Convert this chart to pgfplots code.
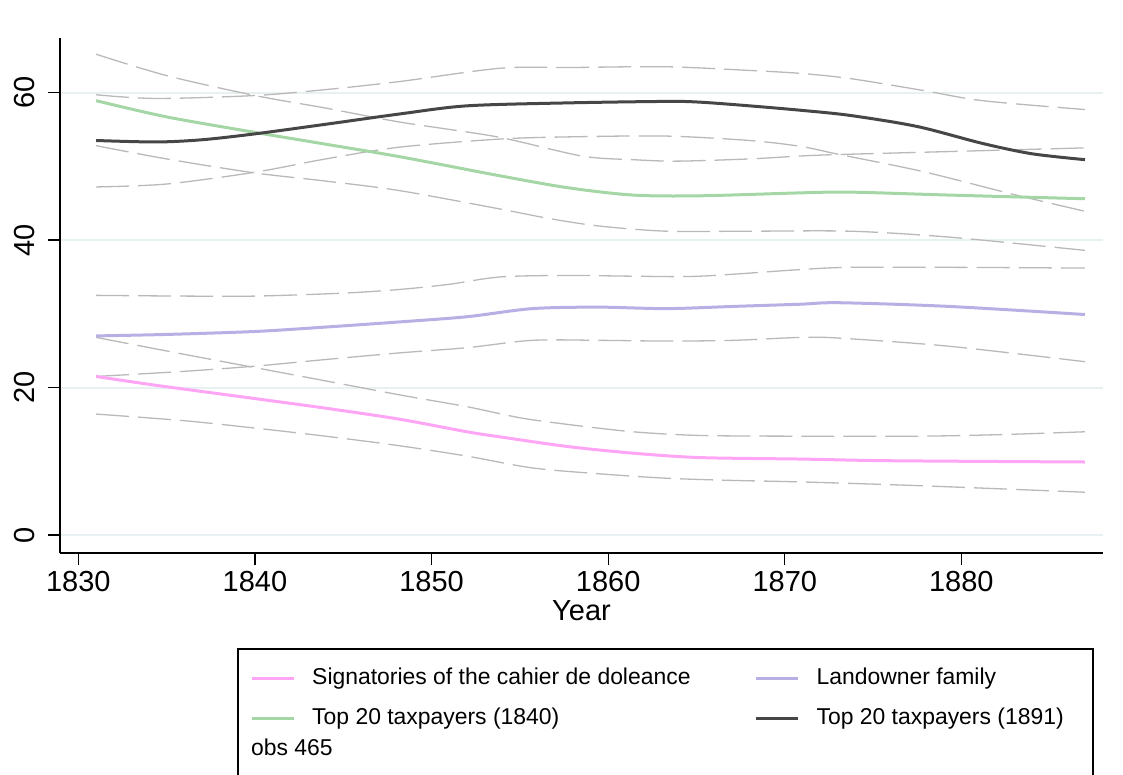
\documentclass[border=0pt]{standalone}
\usepackage{fontspec}
\setmainfont{Liberation Sans}
\usepackage{pgfplots}
\pgfplotsset{compat=1.18}
\definecolor{cpink}{RGB}{255,165,245}
\definecolor{cpurple}{RGB}{182,176,228}
\definecolor{cgreen}{RGB}{165,214,165}
\definecolor{cdark}{RGB}{70,70,70}
\definecolor{cci}{RGB}{185,185,185}
\definecolor{cgrid}{RGB}{232,241,242}
\begin{document}
\begin{tikzpicture}
\useasboundingbox (-60bp,-222bp) rectangle (1063bp,553bp);
\begin{axis}[
  at={(0,0)}, anchor=south west,
  scale only axis, width=1043bp, height=515bp,
  xmin=1828.96, xmax=1888.02, ymin=-2.44, ymax=67.4,
  axis x line*=bottom, axis y line*=left,
  axis line style={line width=1.3bp, black},
  xtick={1830,1840,1850,1860,1870,1880},
  ytick={0,20,40,60},
  tick align=outside, major tick length=12bp,
  every tick/.style={line width=1.3bp, black},
  ymajorgrids, major grid style={line width=2bp, cgrid},
  /pgf/number format/assume math mode=true,
  /pgf/number format/1000 sep={},
  tick label style={font=\fontsize{29bp}{33bp}\selectfont, inner sep=0pt},
  xticklabel style={anchor=north},
  yticklabel style={rotate=90, anchor=south},
  xticklabel shift=6bp,
  yticklabel shift=13bp,
  xlabel={Year},
  xlabel style={at={(axis description cs:0.5,0)}, anchor=north, yshift=-47bp, inner sep=0pt, font=\fontsize{29bp}{33bp}\selectfont},
  legend columns=2,
  legend cell align=left,
  legend image code/.code={\draw[#1] (0bp,0bp) -- (42bp,0bp);},
  legend style={at={(axis description cs:0.1822,-0.2233)}, anchor=north west, draw=none, fill=none,
    inner sep=0pt, font=\fontsize{23}{27}\selectfont, row sep=19bp,
    nodes={inner sep=0pt, text height=16bp, text depth=5bp},
    /tikz/every odd column/.append style={column sep=17bp},
    /tikz/every even column/.append style={column sep=64bp}},
]
% confidence bands
\addplot[cci, line width=1.3bp, dash pattern=on 33bp off 9bp, smooth, forget plot] coordinates {
(1831,26.8) (1836,24.5) (1840,22.7) (1844,20.9) (1848.2,19.0) (1852,17.4) (1855,15.9) (1857.7,15.0) (1861.4,14.0) (1865.2,13.5) (1870.9,13.4) (1877.5,13.4) (1882,13.6) (1887,14.0)};
\addplot[cci, line width=1.3bp, dash pattern=on 33bp off 9bp, smooth, forget plot] coordinates {
(1831,16.4) (1836,15.5) (1840,14.5) (1844,13.4) (1848.2,12.1) (1852,10.7) (1855.7,9.1) (1859.5,8.3) (1863.3,7.7) (1867.1,7.4) (1870.9,7.2) (1877.5,6.7) (1887,5.8)};
\addplot[cci, line width=1.3bp, dash pattern=on 33bp off 9bp, smooth, forget plot] coordinates {
(1831,32.5) (1836,32.4) (1840,32.4) (1845,32.8) (1848.2,33.3) (1851,34.0) (1853.9,35.0) (1857.7,35.2) (1861.4,35.1) (1865.2,35.1) (1870.9,36.0) (1873.7,36.3) (1879.3,36.3) (1887,36.2)};
\addplot[cci, line width=1.3bp, dash pattern=on 33bp off 9bp, smooth, forget plot] coordinates {
(1831,21.5) (1836,22.2) (1840,22.9) (1844,23.8) (1848.2,24.7) (1852,25.4) (1855.7,26.4) (1859.5,26.4) (1863.3,26.3) (1867.1,26.4) (1870.9,26.8) (1873.1,26.7) (1879.3,25.6) (1887,23.5)};
\addplot[cci, line width=1.3bp, dash pattern=on 33bp off 9bp, smooth, forget plot] coordinates {
(1831,65.2) (1835,62.3) (1840,59.6) (1844,57.9) (1848.2,56.0) (1853.7,54.0) (1858.5,51.4) (1861.4,50.9) (1863.9,50.7) (1868,51.0) (1870.9,51.4) (1873.1,51.6) (1879.3,52.0) (1887,52.5)};
\addplot[cci, line width=1.3bp, dash pattern=on 33bp off 9bp, smooth, forget plot] coordinates {
(1831,52.8) (1835,51.0) (1840,49.1) (1844,48.0) (1848.2,46.7) (1853.9,44.2) (1856.7,42.9) (1859.5,41.9) (1863.3,41.2) (1868,41.2) (1873.7,41.2) (1879.3,40.4) (1887,38.6)};
\addplot[cci, line width=1.3bp, dash pattern=on 33bp off 9bp, smooth, forget plot] coordinates {
(1831,59.7) (1834.4,59.2) (1840,59.6) (1844,60.4) (1848.2,61.5) (1853.9,63.3) (1858,63.4) (1863.3,63.5) (1868,63.0) (1870.9,62.6) (1873.7,61.9) (1877.8,60.3) (1881.2,58.9) (1887,57.7)};
\addplot[cci, line width=1.3bp, dash pattern=on 33bp off 9bp, smooth, forget plot] coordinates {
(1831,47.2) (1835,47.6) (1840,49.2) (1844,51.0) (1848.2,52.6) (1853.9,53.7) (1858,54.0) (1863.3,54.1) (1868,53.5) (1870.9,52.7) (1873.1,51.6) (1877.8,49.3) (1883.1,46.1) (1887,43.9)};
% main lines
\addplot[cpink, line width=3bp, smooth] coordinates {
(1831,21.5) (1834.4,20.3) (1840,18.5) (1844,17.2) (1848.2,15.7) (1852,14.0) (1853.9,13.3) (1857.7,12.0) (1861.4,11.1) (1865.2,10.5) (1870.9,10.3) (1875,10.1) (1880,10.0) (1887,9.9)};
\addlegendentry{Signatories of the cahier de doleance}
\addplot[cpurple, line width=3bp, smooth] coordinates {
(1831,27.0) (1835,27.2) (1840,27.6) (1844,28.2) (1848.2,28.9) (1852,29.6) (1855.7,30.7) (1859.5,30.9) (1863.3,30.7) (1867.1,31.0) (1870.9,31.3) (1873.1,31.5) (1879.3,31.0) (1887,29.9)};
\addlegendentry{Landowner family}
\addplot[cgreen, line width=3bp, smooth] coordinates {
(1831,58.9) (1835,56.7) (1840,54.6) (1844,53.0) (1848.2,51.3) (1853.9,48.7) (1857.7,47.1) (1861.4,46.1) (1865.2,46.0) (1870.9,46.4) (1873.7,46.5) (1879.3,46.1) (1887,45.6)};
\addlegendentry{Top 20 taxpayers (1840)}
\addplot[cdark, line width=3bp, smooth] coordinates {
(1831,53.5) (1834.4,53.3) (1837,53.6) (1840,54.4) (1844,55.7) (1848.2,57.1) (1852,58.2) (1857.7,58.6) (1863.3,58.8) (1865.2,58.7) (1868,58.2) (1870.9,57.6) (1873.7,56.9) (1877.5,55.4) (1881.2,53.1) (1884,51.7) (1887,50.9)};
\addlegendentry{Top 20 taxpayers (1891)}
\end{axis}
\draw[line width=1.3bp, black] (178bp,-96bp) rectangle (1033bp,-260bp);
\node[anchor=base west, inner sep=0pt, font=\fontsize{23}{27}\selectfont] at (191bp,-202bp) {obs 465};
\end{tikzpicture}
\end{document}
